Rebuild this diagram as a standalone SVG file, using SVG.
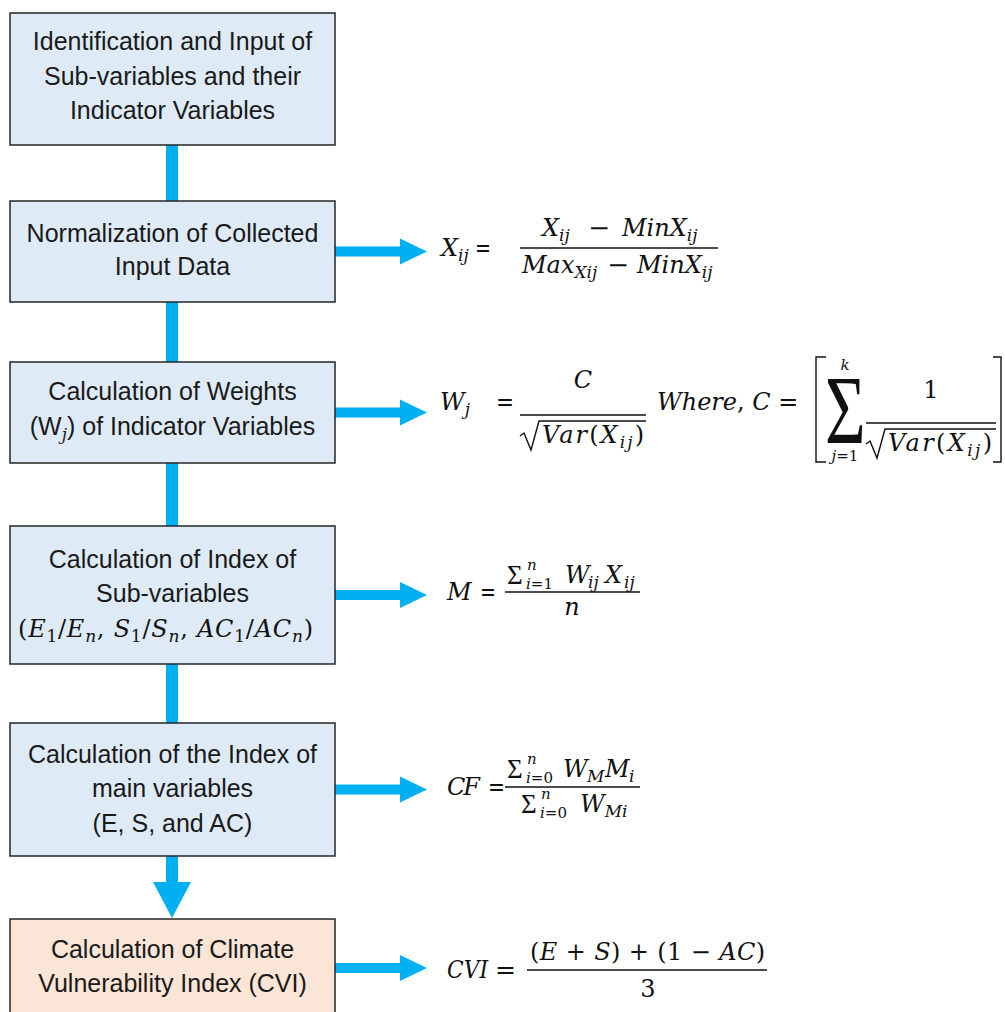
<svg xmlns="http://www.w3.org/2000/svg" width="1005" height="1012" viewBox="0 0 1005 1012">
<style>
.box{fill:#DEEBF7;stroke:#262626;stroke-width:1.5}
.box2{fill:#FBE5D6;stroke:#262626;stroke-width:1.5}
.t{font-family:"Liberation Sans",Arial,sans-serif;font-size:25px;fill:#1a1a1a;text-anchor:middle}
.m{font-family:"DejaVu Serif","Liberation Serif",serif;font-style:italic;font-size:24px;fill:#111}
.u{font-style:normal}
.s{font-size:17px}
.ss{font-family:"DejaVu Serif","Liberation Serif",serif;font-style:italic;font-size:15px;fill:#111}
.sig{font-family:"Liberation Serif","Times New Roman",serif;fill:#111}
.bar{stroke:#111;stroke-width:1.4;fill:none}
.conn{fill:#00B0F0}
</style>
<rect width="1005" height="1012" fill="#ffffff"/>
<g id="connectors">
<rect class="conn" x="166" y="145" width="12" height="56"/>
<rect class="conn" x="166" y="302" width="12" height="60"/>
<rect class="conn" x="166" y="463" width="12" height="63"/>
<rect class="conn" x="166" y="664" width="12" height="59"/>
<polygon class="conn" points="166,856 178,856 178,882 191,882 172,918 153,882 166,882"/>
<polygon class="conn" points="335,246.5 400,246.5 400,238.5 427,251.5 400,264.5 400,256.5 335,256.5"/>
<polygon class="conn" points="335,407.5 400,407.5 400,399.5 427,412.5 400,425.5 400,417.5 335,417.5"/>
<polygon class="conn" points="335,590 400,590 400,582 427,595 400,608 400,600 335,600"/>
<polygon class="conn" points="335,784.5 400,784.5 400,776.5 427,789.5 400,802.5 400,794.5 335,794.5"/>
<polygon class="conn" points="335,963 400,963 400,955 427,968 400,981 400,973 335,973"/>
</g>
<g id="node1">
<rect class="box" x="10" y="13" width="325" height="132"/>
<text class="t" x="172.5" y="50">Identification and Input of</text>
<text class="t" x="172.5" y="85">Sub-variables and their</text>
<text class="t" x="172.5" y="119">Indicator Variables</text>
</g>
<g id="node2">
<rect class="box" x="10" y="201" width="325" height="101"/>
<text class="t" x="172.5" y="242">Normalization of Collected</text>
<text class="t" x="172.5" y="275">Input Data</text>
</g>
<g id="node3">
<rect class="box" x="10" y="362" width="325" height="101"/>
<text class="t" x="172.5" y="400">Calculation of Weights</text>
<text class="t" x="172.5" y="435">(W<tspan font-family="DejaVu Serif,serif" font-style="italic" font-size="17" dy="5">j</tspan><tspan dy="-5">) of Indicator Variables</tspan></text>
</g>
<g id="node4">
<rect class="box" x="10" y="526" width="325" height="138"/>
<text class="t" x="172.5" y="568">Calculation of Index of</text>
<text class="t" x="172.5" y="602">Sub-variables</text>
<text class="m" x="18" y="637" textLength="295" lengthAdjust="spacing"><tspan class="u">(</tspan>E<tspan class="s u" dy="5">1</tspan><tspan class="u" dy="-5">/</tspan>E<tspan class="s" dy="5">n</tspan><tspan class="u" dy="-5">, </tspan>S<tspan class="s u" dy="5">1</tspan><tspan class="u" dy="-5">/</tspan>S<tspan class="s" dy="5">n</tspan><tspan class="u" dy="-5">, </tspan>AC<tspan class="s u" dy="5">1</tspan><tspan class="u" dy="-5">/</tspan>AC<tspan class="s" dy="5">n</tspan><tspan class="u" dy="-5">)</tspan></text>
</g>
<g id="node5">
<rect class="box" x="10" y="723" width="325" height="133"/>
<text class="t" x="172.5" y="763">Calculation of the Index of</text>
<text class="t" x="172.5" y="797">main variables</text>
<text class="t" x="172.5" y="832">(E, S, and AC)</text>
</g>
<g id="node6">
<rect class="box2" x="10" y="919" width="325" height="100"/>
<text class="t" x="172.5" y="958">Calculation of Climate</text>
<text class="t" x="172.5" y="992">Vulnerability Index (CVI)</text>
</g>
<g id="formula1">
<text class="m" x="441" y="256">X<tspan class="s" dy="5">ij</tspan></text>
<text class="m u" x="475" y="256" textLength="16" lengthAdjust="spacingAndGlyphs">=</text>
<text class="m" x="542" y="236">X<tspan class="s" dy="5">ij</tspan></text>
<text class="m u" x="588" y="236" textLength="22" lengthAdjust="spacingAndGlyphs">−</text>
<text class="m" x="622" y="236">Min<tspan>X</tspan><tspan class="s" dy="5">ij</tspan></text>
<line class="bar" x1="520" y1="248" x2="718" y2="248"/>
<text class="m" x="522" y="273">Max<tspan class="s" dy="5">Xij</tspan></text>
<text class="m u" x="607" y="273" textLength="22" lengthAdjust="spacingAndGlyphs">−</text>
<text class="m" x="637" y="273">Min<tspan>X</tspan><tspan class="s" dy="5">ij</tspan></text>
</g>
<g id="formula2">
<text class="m" x="440" y="410">W<tspan class="s" dy="5">j</tspan></text>
<text class="m u" x="496" y="410" textLength="18" lengthAdjust="spacingAndGlyphs">=</text>
<text class="m" x="583" y="388" text-anchor="middle">C</text>
<line class="bar" x1="520" y1="415" x2="646" y2="415"/>
<path class="bar" d="M520,436 L524,433 L531,450 L539,421 L646,421"/>
<text class="m" x="542" y="443" textLength="102" lengthAdjust="spacing">Var<tspan class="u">(</tspan>X<tspan class="s" dy="5">ij</tspan><tspan class="u" dy="-5">)</tspan></text>
<text class="m" x="657" y="410">Where<tspan class="u">,</tspan> C <tspan class="u">=</tspan></text>
<path class="bar" stroke-width="2" d="M826,357 H816 V462 H826"/>
<path class="bar" stroke-width="2" d="M993,357 H1001 V462 H993"/>
<text class="sig" transform="translate(825,443) scale(0.72,1)" font-size="97">Σ</text>
<text class="ss" x="845" y="370" text-anchor="middle">k</text>
<text class="ss" x="845" y="461" text-anchor="middle">j<tspan font-style="normal">=1</tspan></text>
<text class="m u" x="931" y="398" text-anchor="middle">1</text>
<line class="bar" x1="866" y1="423" x2="996" y2="423"/>
<path class="bar" d="M866,444 L870,441 L877,458 L885,429 L996,429"/>
<text class="m" x="888" y="451" textLength="104" lengthAdjust="spacing">Var<tspan class="u">(</tspan>X<tspan class="s" dy="5">ij</tspan><tspan class="u" dy="-5">)</tspan></text>
</g>
<g id="formula3">
<text class="m" x="447" y="600">M</text>
<text class="m u" x="480" y="600" textLength="16" lengthAdjust="spacingAndGlyphs">=</text>
<text class="sig" x="507" y="584" font-size="27">Σ</text>
<text class="ss" x="527" y="570">n</text>
<text class="ss" x="526" y="589">i<tspan font-style="normal">=1</tspan></text>
<text class="m" x="565" y="583">W</text>
<text class="m s" x="588" y="588">ij</text>
<text class="m" x="605" y="583">X</text>
<text class="m s" x="624" y="588">ij</text>
<line class="bar" x1="505" y1="592" x2="640" y2="592"/>
<text class="m" x="572" y="615" text-anchor="middle">n</text>
</g>
<g id="formula4">
<text class="m" x="447" y="795" textLength="33" lengthAdjust="spacing">CF</text>
<text class="m u" x="488" y="795" textLength="17" lengthAdjust="spacingAndGlyphs">=</text>
<text class="sig" x="507" y="778" font-size="27">Σ</text>
<text class="ss" x="527" y="764">n</text>
<text class="ss" x="526" y="783">i<tspan font-style="normal">=0</tspan></text>
<text class="m" x="563" y="777">W</text>
<text class="m s" x="587" y="782">M</text>
<text class="m" x="605" y="777">M</text>
<text class="m s" x="629" y="782">i</text>
<line class="bar" x1="505" y1="787" x2="640" y2="787"/>
<text class="sig" x="521" y="813" font-size="27">Σ</text>
<text class="ss" x="541" y="799">n</text>
<text class="ss" x="540" y="818">i<tspan font-style="normal">=0</tspan></text>
<text class="m" x="580" y="812">W<tspan class="s" dy="5">Mi</tspan></text>
</g>
<g id="formula5">
<text class="m" x="447" y="978" textLength="41" lengthAdjust="spacingAndGlyphs">CVI</text>
<text class="m u" x="495" y="978" textLength="21" lengthAdjust="spacingAndGlyphs">=</text>
<text class="m" x="530" y="960" textLength="235" lengthAdjust="spacing"><tspan class="u">(</tspan>E <tspan class="u">+</tspan> S<tspan class="u">) +  (1 − </tspan>AC<tspan class="u">)</tspan></text>
<line class="bar" x1="527" y1="970" x2="767" y2="970"/>
<text class="m u" x="648" y="997" text-anchor="middle">3</text>
</g>
</svg>
